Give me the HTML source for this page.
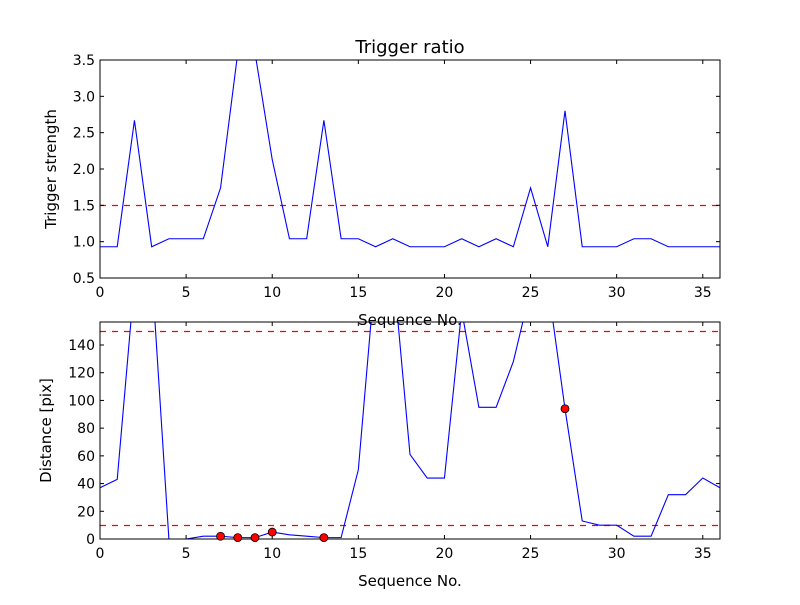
<!DOCTYPE html>
<html><head><meta charset="utf-8"><style>
body{margin:0;background:#fff;}
svg text{font-family:"DejaVu Sans","Liberation Sans",sans-serif;}
</style></head><body>
<svg id="chart" width="800" height="600" xmlns="http://www.w3.org/2000/svg">
<rect width="800" height="600" fill="#fff"/>
</svg>
<script>
const xs = [0,1,2,3,4,5,6,7,8,9,10,11,12,13,14,15,16,17,18,19,20,21,22,23,24,25,26,27,28,29,30,31,32,33,34,35,36];
const strength = [0.93,0.93,2.67,0.93,1.04,1.04,1.04,1.74,3.6,3.6,2.13,1.04,1.04,2.67,1.04,1.04,0.93,1.04,0.93,0.93,0.93,1.04,0.93,1.04,0.93,1.74,0.93,2.8,0.93,0.93,0.93,1.04,1.04,0.93,0.93,0.93,0.93];
const distance = [37,43,186,194,0,0,2,2,1,1,5,3,2,1,1,50,195,198,61,44,44,165,95,95,128,180,184,94,13,10,10,2,2,32,32,44,37];
const markX = [7,8,9,10,13,27];
const markY = [2,1,1,5,1,94];
const strengthThresh = [1.5];
const distThresh = [10,150];
const xTicks = [0,5,10,15,20,25,30,35];
const topYTicks = [0.5,1.0,1.5,2.0,2.5,3.0,3.5];
const botYTicks = [0,20,40,60,80,100,120,140];

const svg = document.getElementById('chart');
const NS = 'http://www.w3.org/2000/svg';
function mk(tag, attrs, parent){const e=document.createElementNS(NS,tag);for(const k in attrs)e.setAttribute(k,attrs[k]);(parent||svg).appendChild(e);return e;}

function panel(name, top, bottom, ymin, ymax, yTicks, ys, thresh, yLabel, fmt, ylx){
  const L=100,R=720;
  const sx=v=>L+(v-0)/(36-0)*(R-L);
  const sy=v=>bottom-(v-ymin)/(ymax-ymin)*(bottom-top);
  const g=mk('g',{});
  
  
  const cid='clip-'+name;
  const cp=mk('clipPath',{id:cid},g);mk('rect',{x:L,y:top,width:R-L,height:bottom-top},cp);
  thresh.forEach(t=>{
    const l=mk('line',{x1:L,x2:R,y1:Math.round(sy(t))+0.5,y2:Math.round(sy(t))+0.5,stroke:'#f00','stroke-width':1.2,'stroke-dasharray':'6,6','clip-path':`url(#${cid})`},g);
    
    
  });
  const p=mk('polyline',{points:xs.map((x,i)=>sx(x)+','+sy(ys[i])).join(' '),fill:'none',stroke:'#00f','stroke-width':1.1,'clip-path':`url(#${cid})`},g);
  
  
  mk('rect',{x:L,y:top,width:R-L,height:bottom-top,fill:'none',stroke:'#000','stroke-width':1},g);
  xTicks.forEach(t=>{
    const x=sx(t);
    mk('line',{x1:x,x2:x,y1:bottom,y2:bottom-4,stroke:'#000'},g);
    mk('line',{x1:x,x2:x,y1:top,y2:top+4,stroke:'#000'},g);
    const tx=mk('text',{x:x,y:bottom+19,'text-anchor':'middle','font-size':14},g);tx.textContent=t;
    
    
  });
  yTicks.forEach(t=>{
    const y=sy(t);
    mk('line',{x1:L,x2:L+4,y1:y,y2:y,stroke:'#000'},g);
    mk('line',{x1:R,x2:R-4,y1:y,y2:y,stroke:'#000'},g);
    const tx=mk('text',{x:L-5,y:y+5,'text-anchor':'end','font-size':14},g);tx.textContent=fmt(t);
    
    
  });
  const xl=mk('text',{x:(L+R)/2,y:bottom+47,'text-anchor':'middle','font-size':15},g);xl.textContent='Sequence No.';
  
  
  const yl=mk('text',{x:0,y:0,'text-anchor':'middle','font-size':15,transform:`translate(${ylx},${(top+bottom)/2}) rotate(-90)`},g);yl.textContent=yLabel;
  
  
  return {sx,sy,g,cid};
}
const t=panel('strength',60,278,0.5,3.5,topYTicks,strength,strengthThresh,'Trigger strength',v=>v.toFixed(1),56);
const title=mk('text',{x:410,y:53,'text-anchor':'middle','font-size':18});title.textContent='Trigger ratio';


const b=panel('distance',322,539,0,156.6,botYTicks,distance,distThresh,'Distance [pix]',v=>String(v),51);
markX.forEach((x,i)=>{
  const c=mk('circle',{cx:b.sx(x),cy:b.sy(markY[i]),r:4,fill:'#f00',stroke:'#000','stroke-width':0.8},b.g);
  
  
});
</script>
</body></html>
